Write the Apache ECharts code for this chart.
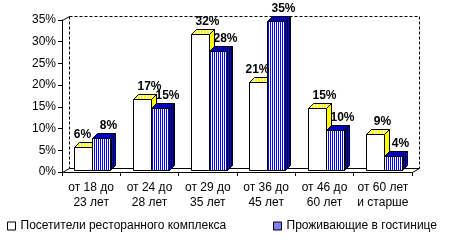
<!DOCTYPE html>
<html><head><meta charset="utf-8">
<script src="https://cdn.jsdelivr.net/npm/echarts@6/dist/echarts.min.js"></script>
<style>html,body{margin:0;padding:0;background:#fff}#c{width:464px;height:240px}</style>
</head><body><div id="c"></div>
<script>
// ---- data ----
const categories = ['от 18 до\n23 лет', 'от 24 до\n28 лет', 'от 29 до\n35 лет', 'от 36 до\n45 лет', 'от 46 до\n60 лет', 'от 60 лет\nи старше'];
const restaurantVisitors = [6, 17, 32, 21, 15, 9];
const hotelGuests = [8, 15, 28, 35, 10, 4];
const seriesNames = ['Посетители ресторанного комплекса', 'Проживающие в гостинице'];
const yMin = 0, yMax = 35, yInterval = 5;

// ---- patterns ----
function stripe(colors, widths) {
  const w = widths.reduce((a, b) => a + b, 0);
  const c = document.createElement('canvas');
  c.width = w; c.height = 1;
  const ctx = c.getContext('2d');
  let x = 0;
  colors.forEach((col, i) => { ctx.fillStyle = col; ctx.fillRect(x, 0, widths[i], 1); x += widths[i]; });
  return { image: c, repeat: 'repeat' };
}
const FILLS = [
  { front: '#FFFFFF', top: stripe(['#FFFF00', '#FFFFFF'], [2, 1]), side: '#FFFF00' },
  { front: stripe(['#0000FF', '#FFFFFF'], [1, 1]), top: stripe(['#0000FF', '#000080'], [1, 1]), side: stripe(['#0000FF', '#000000'], [1, 1]) }
];
const FAMILY = '"Liberation Sans", Arial, sans-serif';
const FONT = '12px ' + FAMILY;
const BOLD = 'bold 12px ' + FAMILY;

function bar3d(sIdx, own, other) {
  return function (params, api) {
    const ci = api.value(0), v = api.value(1);
    const top = api.coord([ci, v]), base = api.coord([ci, 0]);
    const cw = api.size([1, 0])[0];
    const w = Math.round(cw * 0.3);
    const cx = top[0];
    const x0 = Math.round(sIdx === 0 ? cx - w + 1 : cx + 1) + 0.5;
    const yT = Math.round(top[1] + 1) + 0.5;
    const yB = Math.round(base[1] - 2) + 0.5;
    const dx = 5, dy = -5;
    const f = FILLS[sIdx];
    const stroke = { stroke: '#000', lineWidth: 1 };
    const off = (sIdx === 0 && other[ci] > v) ? -1 : 7;
    return {
      type: 'group',
      children: [
        { type: 'rect', shape: { x: x0, y: yT, width: w, height: yB - yT }, style: Object.assign({ fill: f.front }, stroke) },
        { type: 'polygon', shape: { points: [[x0, yT], [x0 + dx, yT + dy], [x0 + w + dx, yT + dy], [x0 + w, yT]] }, style: Object.assign({ fill: f.top }, stroke) },
        { type: 'polygon', shape: { points: [[x0 + w, yT], [x0 + w + dx, yT + dy], [x0 + w + dx, yB + dy], [x0 + w, yB]] }, style: Object.assign({ fill: f.side }, stroke) },
        { type: 'text', z2: 100, style: { text: v + '%', x: x0 + w / 2 + off, y: yT + dy - 2, textAlign: 'center', textVerticalAlign: 'bottom', font: BOLD, fill: '#000' } }
      ]
    };
  };
}

const chart = echarts.init(document.getElementById('c'), null, { renderer: 'canvas' });
const legendText = { color: '#000', fontSize: 12, fontFamily: FAMILY };
const option = {
  animation: false,
  grid: { left: 62, right: 52, top: 20, bottom: 68 },
  xAxis: {
    type: 'category', data: categories,
    axisLine: { show: true, lineStyle: { color: '#000', width: 1 } },
    axisTick: { show: true, length: 4, lineStyle: { color: '#000' } },
    axisLabel: { interval: 0, color: '#000', fontSize: 12, fontFamily: FAMILY, lineHeight: 15, margin: 8 }
  },
  yAxis: {
    type: 'value', min: yMin, max: yMax, interval: yInterval,
    axisLine: { show: true, lineStyle: { color: '#000', width: 1 } },
    axisTick: { show: true, length: 4, lineStyle: { color: '#000' } },
    splitLine: { show: false },
    axisLabel: { formatter: '{value}%', color: '#000', fontSize: 12, fontFamily: FAMILY, margin: 6 }
  },
  legend: [
    { left: 7, top: 220, padding: 0, itemWidth: 8, itemHeight: 8, icon: 'rect', selectedMode: false,
      textStyle: legendText,
      data: [{ name: seriesNames[0], itemStyle: { color: '#FFFFFF', borderColor: '#000', borderWidth: 1 } }] },
    { left: 273, top: 220, padding: 0, itemWidth: 8, itemHeight: 8, icon: 'rect', selectedMode: false,
      textStyle: legendText,
      data: [{ name: seriesNames[1], itemStyle: { color: FILLS[1].front, borderColor: '#000', borderWidth: 1 } }] }
  ],
  series: [
    { type: 'custom', name: seriesNames[0], renderItem: bar3d(0, restaurantVisitors, hotelGuests),
      encode: { x: 0, y: 1 }, data: restaurantVisitors.map((v, i) => [i, v]),
      itemStyle: { color: '#FFFFFF', borderColor: '#000' } },
    { type: 'custom', name: seriesNames[1], renderItem: bar3d(1, hotelGuests, restaurantVisitors),
      encode: { x: 0, y: 1 }, data: hotelGuests.map((v, i) => [i, v]),
      itemStyle: { color: FILLS[1].front, borderColor: '#000' } }
  ]
};
chart.setOption(option);

// back wall & floor derived from the grid of the axes
const rect = chart.getModel().getComponent('grid', 0).coordinateSystem.getRect();
const L = Math.round(rect.x) + 0.5, R = Math.round(rect.x + rect.width) + 0.5;
const T = Math.round(rect.y) + 0.5, B = Math.round(rect.y + rect.height) + 0.5;
const WX = 7, WY = -4;
const solid = { stroke: '#000', lineWidth: 1 };
const dashed = { stroke: '#000', lineWidth: 1, lineDash: [3, 2] };
chart.setOption({
  graphic: [
    { type: 'line', silent: true, shape: { x1: L + WX, y1: T + WY, x2: R + WX, y2: T + WY }, style: dashed },
    { type: 'line', silent: true, shape: { x1: L + WX, y1: T + WY, x2: L + WX, y2: B + WY }, style: dashed },
    { type: 'line', silent: true, shape: { x1: R + WX, y1: T + WY, x2: R + WX, y2: B + WY }, style: dashed },
    { type: 'line', silent: true, shape: { x1: L + WX, y1: B + WY, x2: R + WX, y2: B + WY }, style: solid },
    { type: 'line', silent: true, shape: { x1: L, y1: B, x2: L + WX, y2: B + WY }, style: solid },
    { type: 'line', silent: true, shape: { x1: R, y1: B, x2: R + WX, y2: B + WY }, style: solid },
    { type: 'line', silent: true, shape: { x1: L, y1: T, x2: L + WX, y2: T + WY }, style: solid }
  ]
});
</script>
</body></html>
